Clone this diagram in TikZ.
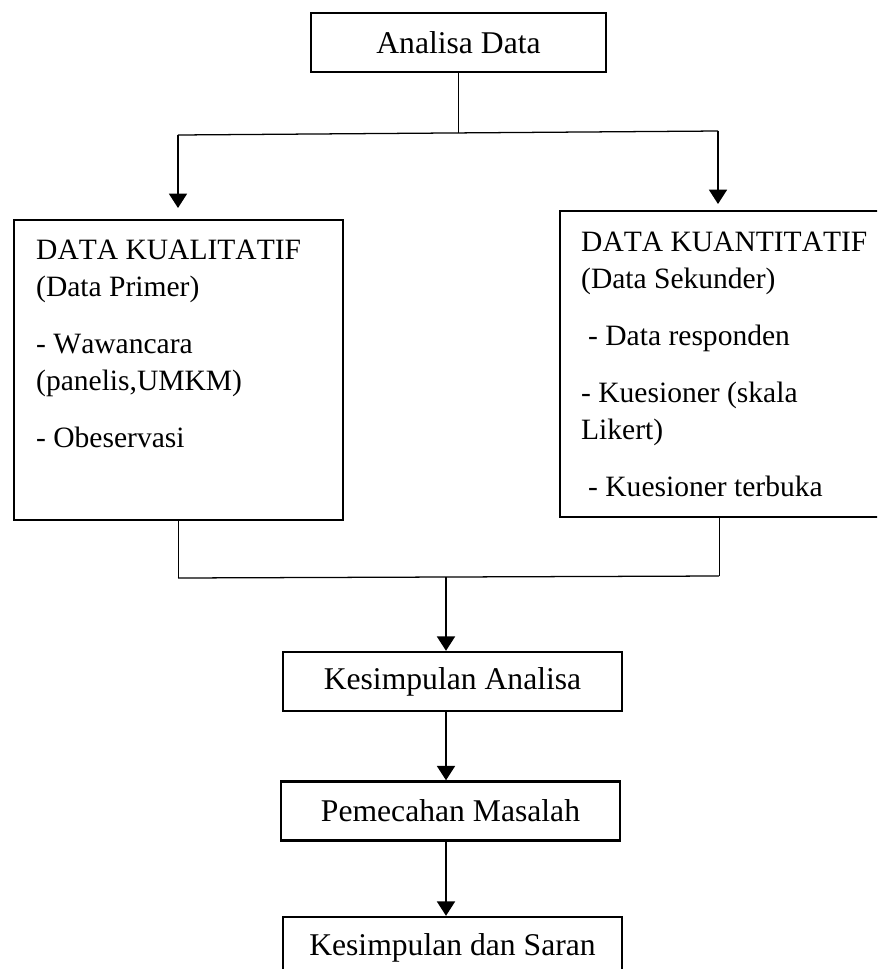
\documentclass[tikz,border=0pt]{standalone}
\usepackage{fontspec}
\setmainfont[Kerning=Off]{Liberation Serif}
\usetikzlibrary{arrows.meta,calc}

\tikzset{
  flowbox/.style={draw,line width=1.7pt,minimum width=8.475cm,minimum height=1.475cm,
    inner sep=0pt,font=\fontsize{22.5}{27}\selectfont},
  databox/.style={draw,line width=1.7pt,anchor=north west,inner sep=0pt,
    font=\fontsize{21}{26.3}\selectfont},
  arr/.style={line width=1.3pt,-{Triangle[length=0.36cm,width=0.45cm]}},
  thinline/.style={line width=0.6pt},
  joinline/.style={line width=0.9pt}
}

\begin{document}
\begin{tikzpicture}[x=0.025cm,y=-0.025cm]
\clip (0,0) rectangle (877,969);

\node[flowbox,minimum width=7.375cm] (ana) at (458.5,42.5) {Analisa Data};

\node[databox] (kual) at (13,219) {\parbox[c][7.5cm][t]{8.225cm}{\leftskip=0.55cm\parskip=0.5cm
  \rule{0pt}{0.975cm}DATA KUALITATIF\\(Data Primer)\par
  - Wawancara\\(panelis,UMKM)\par
  - Obeservasi}};
\node[databox] (kuan) at (559,210) {\parbox[c][7.65cm][t]{8.025cm}{\leftskip=0.525cm\parskip=0.5cm
  \rule{0pt}{1cm}DATA KUANTITATIF\\(Data Sekunder)\par
  \hspace*{0.175cm}- Data responden\par
  - Kuesioner (skala\\Likert)\par
  \hspace*{0.175cm}- Kuesioner terbuka}};

\node[flowbox] (kesA) at (452.5,681.5) {Kesimpulan Analisa};
\node[flowbox] (pem) at (450.5,811) {Pemecahan Masalah};
\node[flowbox,minimum height=1.55cm] (saran) at (452.5,948) {Kesimpulan dan Saran};

\coordinate (split) at (459,133);
\coordinate (splitL) at (178,135);
\coordinate (splitR) at (718,131);
\draw[thinline] (ana.south) -- (ana.south |- split);
\draw[joinline] (splitL) -- (splitR);
\draw[arr,shorten >=0.275cm] (splitL) -- (splitL |- kual.north);
\draw[arr,shorten >=0.15cm] (splitR) -- (splitR |- kuan.north);

\coordinate (mergeL) at (178,578);
\coordinate (mergeR) at (719,576);
\coordinate (merge) at (446,577);
\draw[thinline] (mergeL |- kual.south) -- (mergeL);
\draw[thinline] (mergeR |- kuan.south) -- (mergeR);
\draw[joinline] (mergeL) -- (mergeR);
\draw[arr] (merge) -- (merge |- kesA.north);
\draw[arr] (merge |- kesA.south) -- (merge |- pem.north);
\draw[arr] (merge |- pem.south) -- (merge |- saran.north);

\end{tikzpicture}
\end{document}
